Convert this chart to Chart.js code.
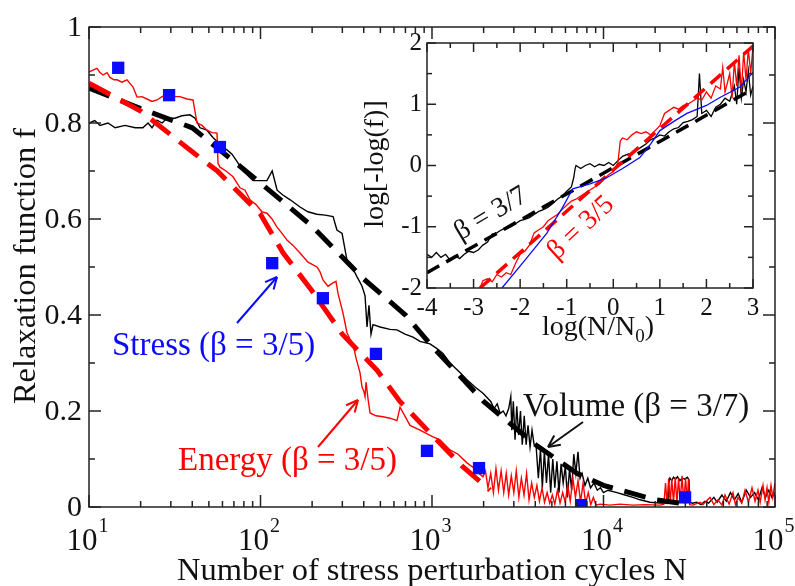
<!DOCTYPE html>
<html>
<head>
<meta charset="utf-8">
<script src="https://cdn.jsdelivr.net/npm/chart.js@4.4.1/dist/chart.umd.min.js"></script>
<style>
  html, body { margin: 0; padding: 0; background: #fff; }
  #wrap { position: relative; width: 795px; height: 586px; }
  #main { position: absolute; left: 0; top: 0; width: 795px; height: 586px; }
  #inset { position: absolute; left: 360px; top: 30px; width: 420px; height: 330px; }
</style>
</head>
<body>
<div id="wrap">
  <canvas id="main" width="795" height="586"></canvas>
  <canvas id="inset" width="420" height="330"></canvas>
</div>
<script>
// ---- main panel data (N = cycles, f = relaxation function) ----
const volN = [10, 10.8, 11.6, 12.9, 14.2, 16.2, 18.6, 20.6, 22.1, 23.3,
  24.9, 26.7, 28.5, 31.7, 34.8, 38.8, 41.5, 44.4, 48.7, 52.8,
  56.5, 59.7, 63.8, 68.2, 72.9, 79.1, 84.6, 90.4, 99.3, 109,
  117, 125, 135, 149, 170, 189, 213, 238, 265, 279,
  299, 319, 342, 365, 391, 407, 418, 429, 441, 453,
  498, 569, 625, 696, 775, 851, 973, 1069, 1159, 1273,
  1456, 1600, 1781, 1983,
  2200, 2300, 2400, 2500, 2600, 2700, 2800, 2880, 2920, 2980,
  3050, 3120, 3200, 3280, 3360, 3450, 3540, 3630, 3730, 3830,
  3940, 4050, 4170, 4290, 4400, 4520, 4650, 4780, 4920, 5060,
  5200, 5350, 5500, 5660, 5820, 5990, 6160, 6340, 6520, 6710,
  6900, 7100, 7300, 7500, 7800, 8100, 8400, 8800, 9200, 9600,
  10000, 10620, 11990, 13340, 14860, 16330, 18670, 21340, 23770, 24000,
  24400, 25000, 25600, 26300, 27000, 27900, 28800, 29800, 30800, 31500,
  31900, 33000, 35000, 37000, 39000, 41000, 44000, 46000, 49000, 52000,
  55000, 58000, 61000, 64000, 68000, 72000, 76000, 80000, 84000, 88000,
  92000, 96000, 100000];
const volF = [0.80, 0.805, 0.795, 0.80, 0.79, 0.795, 0.79, 0.79, 0.80, 0.79,
  0.806, 0.80, 0.81, 0.81, 0.815, 0.817, 0.81, 0.79, 0.785, 0.77,
  0.76, 0.75, 0.744, 0.735, 0.72, 0.70, 0.69, 0.68, 0.68, 0.68,
  0.70, 0.66, 0.65, 0.64, 0.625, 0.615, 0.61, 0.608, 0.605, 0.577,
  0.57, 0.515, 0.50, 0.48, 0.46, 0.44, 0.375, 0.42, 0.36, 0.38,
  0.375, 0.37, 0.369, 0.36, 0.354, 0.345, 0.34, 0.33, 0.32, 0.30,
  0.28, 0.265, 0.25, 0.237,
  0.22, 0.205, 0.215, 0.195, 0.20, 0.19, 0.205, 0.23, 0.16, 0.22,
  0.14, 0.21, 0.15, 0.20, 0.13, 0.19, 0.13, 0.17, 0.125, 0.16,
  0.13, 0.125, 0.06, 0.12, 0.04, 0.115, 0.05, 0.11, 0.03, 0.10,
  0.04, 0.095, 0.03, 0.09, 0.05, 0.085, 0.02, 0.08, 0.035, 0.11,
  0.07, 0.115, 0.06, 0.07, 0.045, 0.06, 0.04, 0.05, 0.035, 0.04,
  0.03, 0.035, 0.03, 0.025, 0.02, 0.015, 0.01, 0.008, 0.008, 0.05,
  0.06, 0.055, 0.062, 0.058, 0.063, 0.055, 0.06, 0.058, 0.062, 0.057,
  0.01, 0.008, 0.01, 0.005, 0.012, 0.008, 0.02, 0.01, 0.025, 0.012,
  0.03, 0.015, 0.028, 0.01, 0.035, 0.02, 0.03, 0.015, 0.04, 0.02,
  0.035, 0.02, 0.03];

const engN = [10, 10.55, 11.13, 11.59, 12.07, 12.74, 13.26, 13.99, 14.57, 15.58,
  16.66, 18.06, 19.05, 20.37, 21.78, 23.3, 24.92, 26.65, 28.5, 30.48,
  33.93, 37.27, 40.41, 42.64, 45.6, 48.76, 52.14, 55.76, 56.51, 58.05,
  62.93, 69.14, 75.96, 81.22, 86.87, 94.15, 102, 109.1, 116.7, 124.8,
  133.5, 142.7, 154.7, 170, 189.2, 213.5, 222.3, 231.4, 247.5, 264.7,
  275.6, 283.1, 302.7, 319.4, 332.5, 346.2, 360.6, 380.4, 390.8, 401.4,
  407, 412.5, 423.7, 435.3, 471.6, 518.1, 569, 625.1, 651, 744.4,
  851.1, 1013, 1113, 1274, 1418,
  1600, 1700, 1781, 1880, 1983, 2050, 2120, 2200, 2280, 2360,
  2440, 2530, 2620, 2710, 2800, 2900, 3000, 3100, 3210, 3320,
  3440, 3560, 3680, 3810, 3950, 4090, 4230, 4380, 4530, 4690,
  4860, 5030, 5200, 5390, 5580, 5780, 5980, 6190, 6400, 6630,
  6860, 7100, 7350, 7600, 7870, 8150, 8430, 8730, 9040, 9550,
  10910, 12480, 14860, 17460, 21350, 22500, 23000, 23500, 24000, 24500,
  25000, 25600, 26200, 26800, 27400, 28000, 28700, 29400, 30100, 30800,
  31300, 31800, 33250, 36530, 38000, 41780, 44000, 46520, 49000, 51110,
  54000, 56900, 58800, 60870, 64000, 66860, 70000, 73440, 76500, 79590,
  82000, 85130, 87500, 89830, 92000, 94770, 97000, 100000];
const engF = [0.906, 0.91, 0.914, 0.905, 0.90, 0.905, 0.895, 0.89, 0.89, 0.885,
  0.89, 0.875, 0.854, 0.855, 0.85, 0.845, 0.848, 0.855, 0.858, 0.855,
  0.855, 0.85, 0.848, 0.80, 0.795, 0.785, 0.78, 0.779, 0.716, 0.708,
  0.70, 0.688, 0.665, 0.66, 0.64, 0.63, 0.615, 0.612, 0.60, 0.583,
  0.57, 0.556, 0.545, 0.529, 0.51, 0.50, 0.49, 0.473, 0.46, 0.467,
  0.47, 0.445, 0.404, 0.363, 0.35, 0.34, 0.31, 0.28, 0.25, 0.24,
  0.23, 0.26, 0.225, 0.196, 0.19, 0.188, 0.185, 0.18, 0.208, 0.17,
  0.16, 0.146, 0.14, 0.119, 0.11,
  0.092, 0.085, 0.08, 0.07, 0.063, 0.075, 0.04, 0.07, 0.03, 0.08,
  0.035, 0.075, 0.03, 0.07, 0.025, 0.065, 0.03, 0.075, 0.02, 0.06,
  0.025, 0.07, 0.015, 0.05, 0.02, 0.045, 0.012, 0.04, 0.01, 0.03,
  0.008, 0.025, 0.006, 0.035, 0.008, 0.03, 0.01, 0.045, 0.012, 0.06,
  0.02, 0.055, 0.01, 0.05, 0.008, 0.03, 0.005, 0.02, 0.004, 0.006,
  0.004, 0.006, 0.004, 0.005, 0.004, 0.006, 0.05, 0.006, 0.06, 0.008,
  0.058, 0.01, 0.062, 0.008, 0.06, 0.01, 0.065, 0.008, 0.06, 0.01,
  0.058, 0.005, 0.004, 0.01, 0.005, 0.02, 0.005, 0.015, 0.004, 0.025,
  0.006, 0.03, 0.005, 0.02, 0.008, 0.035, 0.01, 0.04, 0.012, 0.035,
  0.01, 0.045, 0.015, 0.04, 0.01, 0.045, 0.02, 0.05];

const volFitN = [10, 20, 40, 70, 100, 200, 400, 700, 1000, 2000, 4000, 7000, 10000, 20000, 28000];
const volFitF = [0.873, 0.83, 0.79, 0.72, 0.675, 0.585, 0.475, 0.40, 0.335, 0.22, 0.13, 0.07, 0.045, 0.015, 0.008];
const engFitN = [10, 20, 40, 56, 100, 135, 200, 300, 478, 650, 1000, 1500, 2180];
const engFitF = [0.883, 0.825, 0.74, 0.70, 0.61, 0.53, 0.45, 0.36, 0.285, 0.22, 0.15, 0.085, 0.035];

const stressN = [14.8, 29.3, 58, 117, 231, 471, 935, 1880, 7400, 29900];
const stressF = [0.915, 0.858, 0.75, 0.508, 0.435, 0.319, 0.117, 0.081, 0.004, 0.02];

const mainXTicks = [10, 100, 1000, 10000, 100000];
const mainXExp = ['1', '2', '3', '4', '5'];
const mainYTicks = [0, 0.2, 0.4, 0.6, 0.8, 1];
const mainYLabels = ['0', '0.2', '0.4', '0.6', '0.8', '1'];

// ---- inset data: log[-log f] vs log(N/N0) ----
const insVolX = [-4.0, -3.9, -3.8, -3.7, -3.6, -3.5, -3.4, -3.3, -3.2, -3.1,
  -3.0, -2.9, -2.8, -2.7, -2.6, -2.5, -2.4, -2.3, -2.2, -2.1,
  -2.0, -1.9, -1.8, -1.7, -1.6, -1.5, -1.4, -1.3, -1.2, -1.1,
  -1.0, -0.9, -0.85, -0.82, -0.8, -0.7, -0.6, -0.5, -0.4, -0.3,
  -0.2, -0.1, 0.0, 0.1, 0.2, 0.3, 0.4, 0.5, 0.6, 0.7,
  0.8, 0.9, 1.0, 1.1, 1.2, 1.3, 1.4, 1.5, 1.6, 1.7,
  1.8, 1.85, 1.9, 2.0, 2.1, 2.2, 2.3, 2.4, 2.5, 2.6,
  2.65, 2.7, 2.75, 2.8, 2.85, 2.9, 2.95, 3.0];
const insVolY = [-1.45, -1.5, -1.42, -1.5, -1.45, -1.55, -1.47, -1.52, -1.45, -1.4,
  -1.42, -1.38, -1.3, -1.25, -1.12, -1.1, -1.05, -1.02, -1.0, -0.95,
  -0.9, -0.88, -0.85, -0.8, -0.75, -0.72, -0.68, -0.62, -0.55, -0.5,
  -0.42, -0.35, -0.2, -0.05, 0.0, -0.05, 0.0, 0.03, -0.02, 0.02,
  0.0, 0.05, 0.0, 0.08, 0.15, 0.18, 0.2, 0.25, 0.3, 0.35,
  0.42, 0.45, 0.5, 0.48, 0.55, 0.6, 0.62, 0.7, 0.72, 0.75,
  0.8, 1.5, 0.85, 0.9, 0.8, 0.95, 1.0, 1.1, 1.05, 1.3,
  1.0, 1.6, 1.1, 1.4, 1.2, 1.55, 1.15, 1.3];

const insEngX = [-2.86, -2.8, -2.7, -2.6, -2.5, -2.4, -2.3, -2.2, -2.1, -2.0,
  -1.9, -1.8, -1.7, -1.6, -1.5, -1.4, -1.3, -1.2, -1.1, -1.0,
  -0.9, -0.8, -0.7, -0.6, -0.5, -0.4, -0.3, -0.2, -0.1, 0.0,
  0.1, 0.15, 0.2, 0.3, 0.4, 0.5, 0.6, 0.7, 0.8, 0.9,
  1.0, 1.1, 1.2, 1.3, 1.4, 1.5, 1.6, 1.7, 1.8, 1.9,
  2.0, 2.1, 2.2, 2.3, 2.35, 2.4, 2.5, 2.55, 2.6, 2.65,
  2.7, 2.75, 2.8, 2.85, 2.9, 2.95, 3.0];
const insEngY = [-2.0, -1.88, -1.85, -1.9, -1.78, -1.82, -1.75, -1.78, -1.6, -1.45,
  -1.4, -1.3, -1.1, -1.05, -1.0, -0.9, -0.85, -0.8, -0.72, -0.65,
  -0.58, -0.55, -0.5, -0.45, -0.4, -0.35, -0.3, -0.22, -0.15, -0.1,
  0.05, 0.4, 0.45, 0.42, 0.5, 0.55, 0.52, 0.55, 0.5, 0.57,
  0.65, 0.85, 0.9, 0.95, 0.92, 0.98, 1.0, 1.05, 1.1, 1.07,
  1.2, 1.1, 1.3, 1.25, 1.6, 1.2, 1.5, 1.1, 1.7, 1.3,
  1.8, 1.2, 1.85, 1.4, 1.9, 1.5, 1.95];

const insStressX = [-2.39, -1.9, -1.43, -1.1, -0.87, -0.5, -0.14, 0.2, 0.57, 0.8, 1.0, 1.3, 1.58, 2.0, 2.29, 2.72, 3.0];
const insStressY = [-2.0, -1.55, -1.11, -0.7, -0.38, -0.3, -0.2, -0.05, 0.13, 0.35, 0.57, 0.72, 0.85, 0.98, 1.11, 1.28, 1.52];

const insVolFitX = [-4, 3];
const insVolFitY = [-1.75, 1.25];
const insEngFitX = [-2.86, 3];
const insEngFitY = [-2.0, 1.95];

const insXTicks = [-4, -3, -2, -1, 0, 1, 2, 3];
const insYTicks = [-2, -1, 0, 1, 2];

const SERIF = '"Liberation Serif"';
const font = px => px + 'px ' + SERIF;
const RED = '#ff0000';
const BLUE = '#0a0aff';
const pts = (xs, ys) => xs.map((v, i) => ({ x: v, y: ys[i] }));

function seg(ctx, x1, y1, x2, y2) {
  ctx.beginPath();
  ctx.moveTo(x1, y1);
  ctx.lineTo(x2, y2);
  ctx.stroke();
}

function arrow(ctx, x1, y1, x2, y2, color) {
  ctx.save();
  ctx.strokeStyle = color;
  ctx.lineWidth = 2;
  seg(ctx, x1, y1, x2, y2);
  const ang = Math.atan2(y2 - y1, x2 - x1);
  const len = 13;
  [0.45, -0.45].forEach(d => {
    seg(ctx, x2, y2, x2 - len * Math.cos(ang + d), y2 - len * Math.sin(ang + d));
  });
  ctx.restore();
}

// frame + inward ticks on all four sides
function frameTicks(chart, xMajor, xMinor, yMajor, yMinor, big, small) {
  const { ctx, chartArea: a, scales: { x, y } } = chart;
  ctx.save();
  ctx.strokeStyle = '#222';
  ctx.lineWidth = 1.5;
  xMajor.forEach(v => { const p = x.getPixelForValue(v); seg(ctx, p, a.bottom, p, a.bottom - big); seg(ctx, p, a.top, p, a.top + big); });
  xMinor.forEach(v => { const p = x.getPixelForValue(v); seg(ctx, p, a.bottom, p, a.bottom - small); seg(ctx, p, a.top, p, a.top + small); });
  yMajor.forEach(v => { const p = y.getPixelForValue(v); seg(ctx, a.left, p, a.left + big, p); seg(ctx, a.right, p, a.right - big, p); });
  yMinor.forEach(v => { const p = y.getPixelForValue(v); seg(ctx, a.left, p, a.left + small, p); seg(ctx, a.right, p, a.right - small, p); });
  ctx.strokeRect(a.left, a.top, a.right - a.left, a.bottom - a.top);
  ctx.restore();
}

const mainXMinor = [];
for (let d = 10; d < 100000; d *= 10) for (let k = 2; k < 10; k++) mainXMinor.push(d * k);
const mainYMinor = [0.1, 0.3, 0.5, 0.7, 0.9];

const mainDecor = {
  id: 'mainDecor',
  afterDraw(chart) {
    const { ctx, chartArea: a, scales: { x, y } } = chart;
    frameTicks(chart, mainXTicks, mainXMinor, mainYTicks, mainYMinor, 12, 6);
    ctx.save();
    ctx.fillStyle = '#111';
    // x tick labels 10^n
    mainXTicks.forEach((v, i) => {
      const p = x.getPixelForValue(v);
      ctx.font = font(31);
      const w1 = ctx.measureText('10').width;
      ctx.font = font(20);
      const w2 = ctx.measureText(mainXExp[i]).width;
      const left = p - (w1 + w2) / 2 - 2;
      ctx.textAlign = 'left';
      ctx.textBaseline = 'alphabetic';
      ctx.font = font(31);
      ctx.fillText('10', left, 550);
      ctx.font = font(20);
      ctx.fillText(mainXExp[i], left + w1 + 1, 532);
    });
    // y tick labels
    ctx.font = font(30);
    ctx.textAlign = 'right';
    ctx.textBaseline = 'middle';
    mainYTicks.forEach((v, i) => ctx.fillText(mainYLabels[i], a.left - 7, y.getPixelForValue(v) + 1));
    // axis titles
    ctx.font = font(32.5);
    ctx.textAlign = 'center';
    ctx.textBaseline = 'alphabetic';
    ctx.fillText('Number of stress perturbation cycles N', (a.left + a.right) / 2, 580);
    ctx.save();
    ctx.translate(35, 266);
    ctx.rotate(-Math.PI / 2);
    ctx.fillText('Relaxation function f', 0, 0);
    ctx.restore();
    // annotations
    ctx.textAlign = 'left';
    ctx.font = font(33);
    ctx.fillStyle = BLUE;
    ctx.fillText('Stress (\u03b2 = 3/5)', 112, 355);
    ctx.fillStyle = RED;
    ctx.fillText('Energy (\u03b2 = 3/5)', 178, 470);
    ctx.fillStyle = '#111';
    ctx.fillText('Volume (\u03b2 = 3/7)', 523, 416);
    ctx.restore();
    arrow(ctx, 237, 323, 277, 277, BLUE);
    arrow(ctx, 318, 447, 358, 400, RED);
    arrow(ctx, 583, 422, 548, 447, '#111');
  }
};

const insXMinor = [-3.5, -2.5, -1.5, -0.5, 0.5, 1.5, 2.5];
const insYMinor = [-1.5, -0.5, 0.5, 1.5];

const insetDecor = {
  id: 'insetDecor',
  beforeDraw(chart) {
    const { ctx, chartArea: a } = chart;
    ctx.save();
    ctx.fillStyle = '#fff';
    ctx.fillRect(a.left, a.top, a.right - a.left, a.bottom - a.top);
    ctx.restore();
  },
  afterDraw(chart) {
    const { ctx, chartArea: a, scales: { x, y } } = chart;
    frameTicks(chart, insXTicks, insXMinor, insYTicks, insYMinor, 9, 5);
    ctx.save();
    ctx.fillStyle = '#111';
    ctx.font = font(25);
    ctx.textAlign = 'center';
    ctx.textBaseline = 'middle';
    insXTicks.forEach(v => ctx.fillText(String(v), x.getPixelForValue(v), a.bottom + 20));
    ctx.textAlign = 'right';
    insYTicks.forEach(v => ctx.fillText(String(v), a.left - 5, y.getPixelForValue(v)));
    // x title with subscript
    ctx.textBaseline = 'alphabetic';
    ctx.textAlign = 'left';
    const t1 = 'log(N/N', t3 = ')';
    ctx.font = font(28);
    const w1 = ctx.measureText(t1).width, w3 = ctx.measureText(t3).width;
    ctx.font = font(19);
    const w2 = ctx.measureText('0').width;
    const cx = (a.left + a.right) / 2 + 8;
    const sx = cx - (w1 + w2 + w3) / 2;
    ctx.font = font(28);
    ctx.fillText(t1, sx, 305);
    ctx.font = font(19);
    ctx.fillText('0', sx + w1, 312);
    ctx.font = font(28);
    ctx.fillText(t3, sx + w1 + w2, 305);
    // y title
    ctx.save();
    ctx.translate(16, 134);
    ctx.rotate(-Math.PI / 2);
    ctx.textAlign = 'center';
    ctx.textBaseline = 'middle';
    ctx.fillText('log[-log(f)]', 0, 0);
    ctx.restore();
    // beta labels
    ctx.textAlign = 'center';
    ctx.textBaseline = 'middle';
    ctx.font = font(28);
    ctx.save();
    ctx.translate(131, 184);
    ctx.rotate(-31 * Math.PI / 180);
    ctx.fillStyle = '#111';
    ctx.fillText('\u03b2 = 3/7', 0, 0);
    ctx.restore();
    ctx.save();
    ctx.translate(221, 198);
    ctx.rotate(-43 * Math.PI / 180);
    ctx.fillStyle = RED;
    ctx.fillText('\u03b2 = 3/5', 0, 0);
    ctx.restore();
    ctx.restore();
  }
};

new Chart(document.getElementById('main'), {
  type: 'scatter',
  data: {
    datasets: [
      { label: 'Stress', data: pts(stressN, stressF), pointStyle: 'rect', pointRadius: 8.7,
        backgroundColor: BLUE, borderColor: BLUE, borderWidth: 0, showLine: false },
      { label: 'Energy fit', data: pts(engFitN, engFitF), showLine: true, pointRadius: 0,
        borderColor: RED, borderWidth: 5, borderDash: [24, 12] },
      { label: 'Volume fit', data: pts(volFitN, volFitF), showLine: true, pointRadius: 0,
        borderColor: '#000', borderWidth: 5, borderDash: [22, 12] },
      { label: 'Energy', data: pts(engN, engF), showLine: true, pointRadius: 0,
        borderColor: RED, borderWidth: 1.4 },
      { label: 'Volume', data: pts(volN, volF), showLine: true, pointRadius: 0,
        borderColor: '#000', borderWidth: 1.4 }
    ]
  },
  options: {
    responsive: false,
    animation: false,
    devicePixelRatio: 1,
    layout: { padding: { left: 89, right: 20, top: 27, bottom: 79 } },
    plugins: { legend: { display: false }, tooltip: { enabled: false } },
    scales: {
      x: { type: 'logarithmic', min: 10, max: 100000, display: false },
      y: { type: 'linear', min: 0, max: 1, display: false }
    }
  },
  plugins: [mainDecor]
});

new Chart(document.getElementById('inset'), {
  type: 'scatter',
  data: {
    datasets: [
      { label: 'Stress', data: pts(insStressX, insStressY), showLine: true, pointRadius: 0,
        borderColor: BLUE, borderWidth: 1.3 },
      { label: 'Energy fit', data: pts(insEngFitX, insEngFitY), showLine: true, pointRadius: 0,
        borderColor: RED, borderWidth: 3.5, borderDash: [14, 8] },
      { label: 'Volume fit', data: pts(insVolFitX, insVolFitY), showLine: true, pointRadius: 0,
        borderColor: '#000', borderWidth: 3.5, borderDash: [14, 8] },
      { label: 'Energy', data: pts(insEngX, insEngY), showLine: true, pointRadius: 0,
        borderColor: RED, borderWidth: 1.3 },
      { label: 'Volume', data: pts(insVolX, insVolY), showLine: true, pointRadius: 0,
        borderColor: '#000', borderWidth: 1.3 }
    ]
  },
  options: {
    responsive: false,
    animation: false,
    devicePixelRatio: 1,
    layout: { padding: { left: 67, right: 27, top: 13, bottom: 72 } },
    plugins: { legend: { display: false }, tooltip: { enabled: false } },
    scales: {
      x: { type: 'linear', min: -4, max: 3, display: false },
      y: { type: 'linear', min: -2, max: 2, display: false }
    }
  },
  plugins: [insetDecor]
});
</script>
</body>
</html>
